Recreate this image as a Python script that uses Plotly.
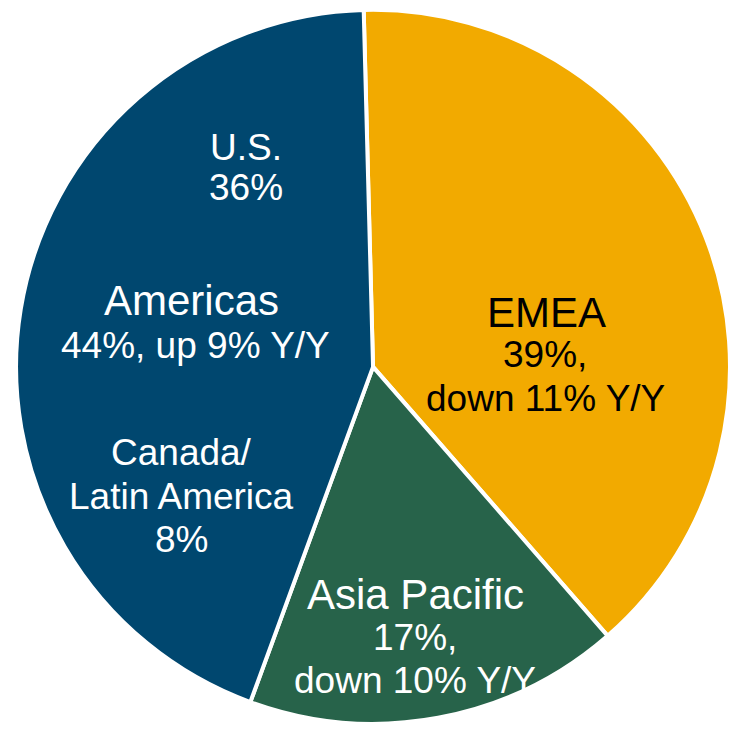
import plotly.graph_objects as go

# Regional revenue mix
regions = ["EMEA", "Asia Pacific", "Americas"]
shares = [39, 17, 44]
yoy = ["down 11%", "down 10%", "up 9%"]
colors = ["#F2AA00", "#27634A", "#00476F"]
text_colors = ["black", "white", "white"]

# Breakdown of the Americas
sub_regions = ["U.S.", "Canada/|Latin America"]
sub_shares = [36, 8]

W = H = 730
FONT = "Liberation Sans, Arial, sans-serif"
BIG, SMALL = 42, 37

fig = go.Figure(
    go.Pie(
        labels=regions,
        values=shares,
        sort=False,
        direction="clockwise",
        rotation=-1.5,
        marker=dict(colors=colors, line=dict(color="white", width=4)),
        textinfo="none",
        hoverinfo="label+percent",
        domain=dict(x=[0.022, 1.0], y=[0.0, 0.995]),
        showlegend=False,
    )
)


def px(x, y):
    return x / W, 1 - y / H


annotations = []


def add(text, x, y, size, color):
    ax, ay = px(x, y)
    annotations.append(
        dict(
            text=text, x=ax, y=ay, xref="paper", yref="paper",
            xanchor="center", yanchor="middle", showarrow=False,
            align="center", font=dict(family=FONT, size=size, color=color),
        )
    )


def add_lines(lines, x, y0, size, color, step=43):
    for i, line in enumerate(lines):
        add(line, x, y0 + i * step, size, color)


# EMEA
add(regions[0], 546, 312, BIG, text_colors[0])
add_lines([f"{shares[0]}%,", f"{yoy[0]} Y/Y"], 545, 355, SMALL, text_colors[0])
# Asia Pacific
add(regions[1], 415, 594, BIG, text_colors[1])
add_lines([f"{shares[1]}%,", f"{yoy[1]} Y/Y"], 415, 637, SMALL, text_colors[1])
# Americas
add(regions[2], 192, 300, BIG, text_colors[2])
add(f"{shares[2]}%, {yoy[2]} Y/Y", 195, 346, SMALL, text_colors[2])
add_lines([sub_regions[0], f"{sub_shares[0]}%"], 246, 147, SMALL, text_colors[2], step=40)
add_lines(sub_regions[1].split("|") + [f"{sub_shares[1]}%"], 181, 453, SMALL, text_colors[2])

fig.update_layout(
    width=W,
    height=H,
    margin=dict(l=0, r=0, t=0, b=0),
    paper_bgcolor="white",
    plot_bgcolor="white",
    annotations=annotations,
)

fig.write_html("out.html")
